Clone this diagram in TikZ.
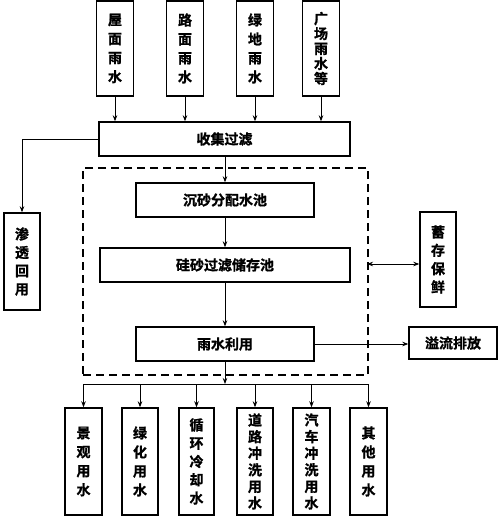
\documentclass[tikz,border=0pt]{standalone}
\usepackage{fontspec}
\setmainfont{Noto Sans CJK SC}[BoldFont={Noto Sans CJK SC Bold}, BoldFeatures={FakeBold=1.2}]
\usetikzlibrary{arrows.meta}
\tikzset{
  box/.style={draw, line width=1.4pt, inner sep=0pt, align=center, font=\bfseries\fontsize{14}{19}\selectfont},
  vbox/.style={box, minimum width=37pt},
  hbox/.style={box, minimum height=34pt},
  arr/.style={-{Stealth[length=6pt,width=4.5pt]}, line width=0.8pt},
  biarr/.style={{Stealth[length=6pt,width=4.5pt]}-{Stealth[length=6pt,width=4.5pt]}, line width=0.8pt},
  plain/.style={line width=0.8pt},
  dashbox/.style={draw, line width=1.1pt, dash pattern=on 8pt off 5pt, inner sep=0pt},
}
\begin{document}
\begin{tikzpicture}[x=1pt,y=-1pt]
\useasboundingbox (0,0) rectangle (500,516);
% top sources
\node[vbox, minimum height=95pt] (t1) at (115,48.5) {屋\\面\\雨\\水};
\node[vbox, minimum height=95pt] (t2) at (185,48.5) {路\\面\\雨\\水};
\node[vbox, minimum height=95pt] (t3) at (255,48.5) {绿\\地\\雨\\水};
\node[vbox, minimum height=95pt, font=\bfseries\fontsize{14}{15}\selectfont] (t4) at (321,48.5) {广\\场\\雨\\水\\等};
% collect
\node[hbox, minimum width=251pt] (col) at (224.5,139) {收集过滤};
% infiltration
\node[vbox, minimum width=36pt, minimum height=97pt, font=\bfseries\fontsize{14}{18.3}\selectfont] (inf) at (22,261.5) {渗\\透\\回\\用};
% dashed frame
\node[dashbox, minimum width=285pt, minimum height=207pt] (dash) at (225.5,271.5) {};
% inner process
\node[hbox, minimum width=178pt] (sand) at (225,200) {沉砂分配水池};
\node[hbox, minimum width=250pt] (sil) at (225,265) {硅砂过滤储存池};
\node[hbox, minimum width=178pt] (use) at (225,344) {雨水利用};
% right side
\node[vbox, minimum width=36pt, minimum height=95pt, font=\bfseries\fontsize{14}{18.3}\selectfont] (store) at (438,259.5) {蓄\\存\\保\\鲜};
\node[hbox, minimum width=88pt, minimum height=32pt] (over) at (453,343) {溢流排放};
% bottom uses
\node[vbox, minimum width=37pt, minimum height=107pt] (b1) at (83.5,461.5) {景\\观\\用\\水};
\node[vbox, minimum width=36pt, minimum height=107pt] (b2) at (140,461.5) {绿\\化\\用\\水};
\node[vbox, minimum width=35pt, minimum height=107pt, font=\bfseries\fontsize{14}{18.3}\selectfont] (b3) at (196.5,461.5) {循\\环\\冷\\却\\水};
\node[vbox, minimum width=36pt, minimum height=107pt, font=\bfseries\fontsize{14}{16.6}\selectfont] (b4) at (255,461.5) {道\\路\\冲\\洗\\用\\水};
\node[vbox, minimum width=37pt, minimum height=107pt, font=\bfseries\fontsize{14}{16.6}\selectfont] (b5) at (311.5,461.5) {汽\\车\\冲\\洗\\用\\水};
\node[vbox, minimum width=37pt, minimum height=107pt] (b6) at (368.5,461.5) {其\\他\\用\\水};
% coordinates
\coordinate (infc) at (inf.north |- col.west);
\coordinate (bus) at (225,384);
\coordinate (busL) at (83.5,384);
\coordinate (busR) at (368.5,384);
\coordinate (stc) at (367,264);
% connectors
\foreach \n in {t1,t2,t3,t4} \draw[arr] (\n.south) -- (\n.south |- col.north);
\draw[plain] (col.west) -- (infc);
\draw[arr] (infc) -- (inf.north);
\draw[arr] (col.south -| sand.north) -- (sand.north);
\draw[arr] (sand.south) -- (sil.north);
\draw[arr] (sil.south) -- (use.north);
\draw[arr] (use.east) -- (use.east -| over.west);
\draw[biarr] (stc) -- (stc -| store.west);
\draw[arr] (use.south) -- (bus);
\draw[plain] (busL) -- (busR);
\foreach \n in {b1,b2,b3,b4,b5,b6} \draw[arr] (\n.north |- bus) -- (\n.north);
\end{tikzpicture}
\end{document}
